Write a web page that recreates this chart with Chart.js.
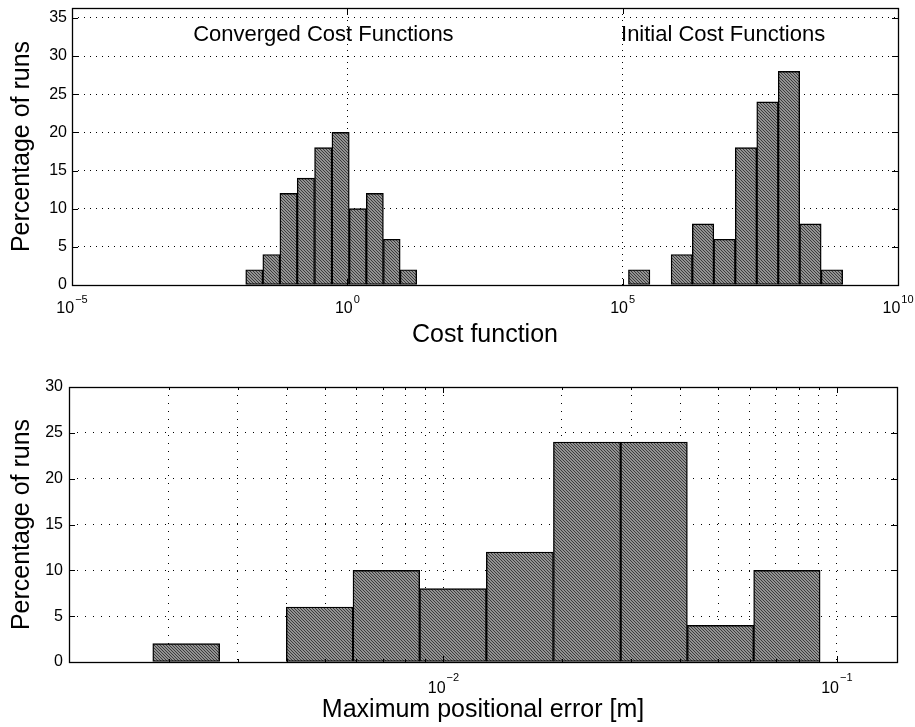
<!DOCTYPE html>
<html>
<head>
<meta charset="utf-8">
<script src="https://cdn.jsdelivr.net/npm/chart.js@4.4.1/dist/chart.umd.min.js"></script>
<style>
  html, body { margin: 0; padding: 0; background: #fff; }
  canvas { position: absolute; left: 0; }
</style>
</head>
<body>
<canvas id="costChart" width="915" height="350" style="top:0"></canvas>
<canvas id="errorChart" width="915" height="377" style="top:350px"></canvas>
<script>
// Histograms: cost function values (top) and max positional error (bottom)

// bin centres are log10 exponents
const convergedBins = [-1.69, -1.38, -1.07, -0.75, -0.44, -0.12, 0.19, 0.50, 0.81, 1.11];
const convergedPct  = [2, 4, 12, 14, 18, 20, 10, 12, 6, 2];
const initialBins   = [5.30, 5.69, 6.07, 6.46, 6.85, 7.24, 7.63, 8.02, 8.41, 8.80];
const initialPct    = [2, 0, 4, 8, 6, 18, 24, 28, 8, 2];
const errorBins     = [-2.654, -2.484, -2.315, -2.145, -1.976, -1.806, -1.635, -1.464, -1.296, -1.127];
const errorPct      = [2, 0, 6, 10, 8, 12, 24, 24, 4, 10];

const costTicks     = [1e-5, 1e0, 1e5, 1e10];
const costYTicks    = [0, 5, 10, 15, 20, 25, 30, 35];
const errorTicks    = [0.002, 0.003, 0.004, 0.005, 0.006, 0.007, 0.008, 0.009, 0.01,
                       0.02, 0.03, 0.04, 0.05, 0.06, 0.07, 0.08, 0.09, 0.1];
const errorLabelled = [0.01, 0.1];
const errorYTicks   = [0, 5, 10, 15, 20, 25, 30];

const costNotes = [
  { text: 'Converged Cost Functions', exp: -2.8, y: 32 },
  { text: 'Initial Cost Functions', exp: 4.97, y: 32 }
];

const FONT = "'Liberation Sans', Arial, sans-serif";
Chart.defaults.font.family = FONT;
Chart.defaults.color = '#000';

function hatch(canvas) {
  const c = document.createElement('canvas');
  c.width = 3; c.height = 3;
  const g = c.getContext('2d');
  g.fillStyle = '#929292';
  g.fillRect(0, 0, 3, 3);
  g.fillStyle = '#3c3c3c';
  for (let i = 0; i < 3; i++) g.fillRect(i, i, 1, 1);
  return canvas.getContext('2d').createPattern(c, 'repeat');
}

function toPoints(bins, pct) {
  return bins.map((e, i) => ({ x: Math.pow(10, e), y: pct[i] }));
}

// box round the plot, inward tick marks and 10^n labels, matlab style
const frame = {
  id: 'frame',
  afterDatasetsDraw(chart, args, opts) {
    const { ctx, chartArea: a, scales } = chart;
    ctx.save();
    ctx.strokeStyle = '#000';
    ctx.lineWidth = 1;
    ctx.beginPath();
    scales.y.ticks.forEach(t => {
      const y = Math.round(scales.y.getPixelForValue(t.value)) + 0.5;
      ctx.moveTo(a.left, y); ctx.lineTo(a.left + 6, y);
      ctx.moveTo(a.right, y); ctx.lineTo(a.right - 6, y);
    });
    scales.x.ticks.forEach(t => {
      const x = Math.round(scales.x.getPixelForValue(t.value)) + 0.5;
      const len = opts.labels.includes(t.value) ? 6 : 3;
      ctx.moveTo(x, a.bottom); ctx.lineTo(x, a.bottom - len);
      ctx.moveTo(x, a.top); ctx.lineTo(x, a.top + len);
    });
    ctx.stroke();
    ctx.lineWidth = 1.3;
    ctx.strokeRect(Math.round(a.left) + 0.5, Math.round(a.top) + 0.5, Math.round(a.width), Math.round(a.height));
    ctx.restore();
  },
  afterDraw(chart, args, opts) {
    const { ctx, chartArea: a, scales } = chart;
    ctx.save();
    ctx.fillStyle = '#000';
    ctx.textBaseline = 'alphabetic';
    opts.labels.forEach(v => {
      const e = String(Math.round(Math.log10(v))).replace('-', '\u2212');
      ctx.font = '16px ' + FONT;
      const w1 = ctx.measureText('10').width;
      ctx.font = '11px ' + FONT;
      const w2 = ctx.measureText(e).width;
      const x0 = scales.x.getPixelForValue(v) - (w1 + w2 + 1) / 2;
      const y = a.bottom + opts.gap;
      ctx.font = '16px ' + FONT;
      ctx.fillText('10', x0, y);
      ctx.font = '11px ' + FONT;
      ctx.fillText(e, x0 + w1 + 1, y - opts.raise);
    });
    ctx.font = '22px ' + FONT;
    (opts.notes || []).forEach(n => {
      ctx.fillText(n.text, scales.x.getPixelForValue(Math.pow(10, n.exp)), scales.y.getPixelForValue(n.y));
    });
    ctx.restore();
  }
};

const costCanvas = document.getElementById('costChart');
const errorCanvas = document.getElementById('errorChart');

function barSet(data, pattern) {
  return {
    data: data,
    backgroundColor: pattern,
    borderColor: '#000',
    borderWidth: 1.4,
    borderSkipped: false,
    barPercentage: 1,
    categoryPercentage: 1,
    barThickness: 'flex',
    stack: 'h'
  };
}

function xAxis(min, max, ticks, dash, title, titlePad) {
  return {
    type: 'logarithmic', min: min, max: max, offset: false,
    afterBuildTicks: s => { s.ticks = ticks.map(v => ({ value: v })); },
    afterFit: s => { s.height = 65; s.paddingLeft = 0; s.paddingRight = 0; },
    grid: { offset: false, color: '#000', lineWidth: 1, drawTicks: false },
    border: { display: false, dash: dash },
    ticks: { autoSkip: false, maxRotation: 0, callback: () => '' },
    title: { display: true, text: title, font: { size: 25 }, padding: { top: 0, bottom: titlePad } }
  };
}

function yAxis(max, ticks, width, pad, dash) {
  return {
    min: 0, max: max,
    afterBuildTicks: s => { s.ticks = ticks.map(v => ({ value: v })); },
    afterFit: s => { s.width = width; s.paddingTop = 0; s.paddingBottom = 0; },
    grid: { color: '#000', lineWidth: 1, drawTicks: false },
    border: { display: false, dash: dash },
    ticks: { padding: pad, font: { size: 16 } },
    title: { display: true, text: 'Percentage of runs', font: { size: 25 }, padding: { top: 7, bottom: 0 } }
  };
}

const costPattern = hatch(costCanvas);
new Chart(costCanvas, {
  type: 'bar',
  data: {
    datasets: [
      barSet(toPoints(convergedBins, convergedPct), costPattern),
      barSet(toPoints(initialBins, initialPct), costPattern)
    ]
  },
  options: {
    responsive: false,
    animation: false,
    layout: { padding: { top: 8, right: 17, left: 0, bottom: 0 } },
    plugins: {
      legend: { display: false }, tooltip: { enabled: false },
      frame: { labels: costTicks, gap: 28, raise: 10, notes: costNotes }
    },
    scales: {
      x: xAxis(1e-5, 1e10, costTicks, [1, 5], 'Cost function', 0),
      y: yAxis(36.3, costYTicks, 72, 5, [1, 5])
    }
  },
  plugins: [frame]
});

const errorPattern = hatch(errorCanvas);
new Chart(errorCanvas, {
  type: 'bar',
  data: { datasets: [barSet(toPoints(errorBins, errorPct), errorPattern)] },
  options: {
    responsive: false,
    animation: false,
    layout: { padding: { top: 37, right: 18, left: 0, bottom: 0 } },
    plugins: {
      legend: { display: false }, tooltip: { enabled: false },
      frame: { labels: errorLabelled, gap: 31, raise: 12 }
    },
    scales: {
      x: xAxis(0.001117, 0.1422, errorTicks, [1, 7], 'Maximum positional error [m]', 2),
      y: yAxis(30, errorYTicks, 69, 6, [1, 7])
    }
  },
  plugins: [frame]
});
</script>
</body>
</html>
